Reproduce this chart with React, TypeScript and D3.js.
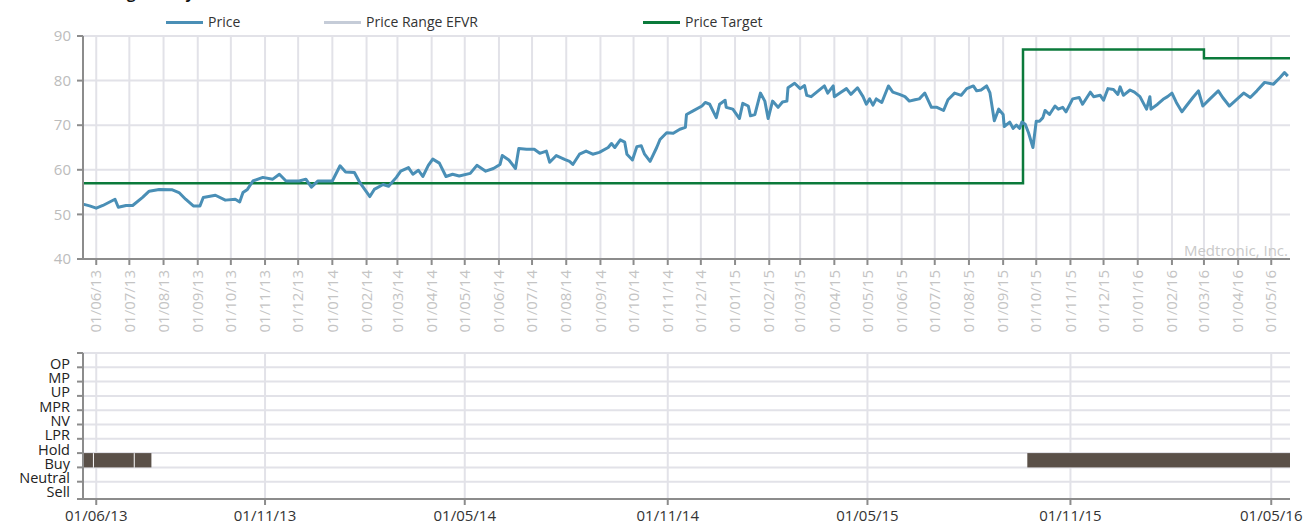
import React from "react";
import * as d3 from "d3";

const W = 1310;
const H = 524;
const FONT = "'Open Sans', 'Noto Sans', sans-serif";

// price (yyyy-mm-dd)
const priceDates = [
  "2013-05-20", "2013-05-26", "2013-06-01", "2013-06-07", "2013-06-18", "2013-06-21", "2013-06-28", "2013-07-04",
  "2013-07-13", "2013-07-19", "2013-07-28", "2013-08-09", "2013-08-15", "2013-08-21", "2013-08-28", "2013-09-03",
  "2013-09-06", "2013-09-17", "2013-09-26", "2013-10-05", "2013-10-09", "2013-10-12", "2013-10-16", "2013-10-21",
  "2013-10-30", "2013-11-08", "2013-11-14", "2013-11-20", "2013-12-02", "2013-12-08", "2013-12-13", "2013-12-19",
  "2014-01-01", "2014-01-08", "2014-01-13", "2014-01-21", "2014-01-26", "2014-02-04", "2014-02-08", "2014-02-16",
  "2014-02-21", "2014-02-28", "2014-03-04", "2014-03-11", "2014-03-15", "2014-03-20", "2014-03-24", "2014-03-29",
  "2014-04-02", "2014-04-08", "2014-04-14", "2014-04-20", "2014-04-26", "2014-05-06", "2014-05-12", "2014-05-20",
  "2014-05-27", "2014-06-02", "2014-06-04", "2014-06-10", "2014-06-16", "2014-06-19", "2014-06-26", "2014-07-03",
  "2014-07-08", "2014-07-14", "2014-07-17", "2014-07-23", "2014-07-31", "2014-08-04", "2014-08-07", "2014-08-13",
  "2014-08-19", "2014-08-25", "2014-08-31", "2014-09-08", "2014-09-11", "2014-09-14", "2014-09-19", "2014-09-23",
  "2014-09-25", "2014-09-30", "2014-10-04", "2014-10-08", "2014-10-11", "2014-10-16", "2014-10-22", "2014-10-25",
  "2014-10-31", "2014-11-06", "2014-11-12", "2014-11-17", "2014-11-18", "2014-11-24", "2014-12-02", "2014-12-05",
  "2014-12-09", "2014-12-15", "2014-12-18", "2014-12-23", "2014-12-24", "2014-12-30", "2015-01-05", "2015-01-08",
  "2015-01-13", "2015-01-15", "2015-01-19", "2015-01-24", "2015-01-28", "2015-01-31", "2015-02-04", "2015-02-09",
  "2015-02-13", "2015-02-17", "2015-02-18", "2015-02-24", "2015-03-01", "2015-03-05", "2015-03-07", "2015-03-11",
  "2015-03-16", "2015-03-23", "2015-03-26", "2015-03-31", "2015-04-01", "2015-04-07", "2015-04-12", "2015-04-16",
  "2015-04-22", "2015-04-27", "2015-04-30", "2015-05-03", "2015-05-06", "2015-05-09", "2015-05-14", "2015-05-20",
  "2015-05-24", "2015-05-30", "2015-06-04", "2015-06-08", "2015-06-13", "2015-06-17", "2015-06-22", "2015-06-28",
  "2015-07-03", "2015-07-09", "2015-07-13", "2015-07-19", "2015-07-25", "2015-07-30", "2015-08-05", "2015-08-08",
  "2015-08-12", "2015-08-17", "2015-08-20", "2015-08-24", "2015-08-28", "2015-09-01", "2015-09-02", "2015-09-07",
  "2015-09-10", "2015-09-13", "2015-09-16", "2015-09-18", "2015-09-21", "2015-09-24", "2015-09-28", "2015-10-01",
  "2015-10-04", "2015-10-07", "2015-10-09", "2015-10-13", "2015-10-18", "2015-10-21", "2015-10-25", "2015-10-28",
  "2015-11-03", "2015-11-09", "2015-11-12", "2015-11-19", "2015-11-22", "2015-11-28", "2015-12-01", "2015-12-05",
  "2015-12-10", "2015-12-14", "2015-12-16", "2015-12-19", "2015-12-25", "2015-12-29", "2016-01-03", "2016-01-09",
  "2016-01-12", "2016-01-13", "2016-01-19", "2016-01-24", "2016-01-28", "2016-02-01", "2016-02-05", "2016-02-10",
  "2016-02-14", "2016-02-20", "2016-02-25", "2016-02-29", "2016-03-06", "2016-03-14", "2016-03-18", "2016-03-24",
  "2016-03-29", "2016-04-06", "2016-04-12", "2016-04-18", "2016-04-25", "2016-05-03", "2016-05-09", "2016-05-13",
  "2016-05-16",
];
const priceValues = [
  52.3, 51.9, 51.4, 52.0, 53.4, 51.6, 52.0, 52.0,
  53.8, 55.2, 55.6, 55.5, 54.9, 53.4, 51.9, 51.9,
  53.8, 54.3, 53.2, 53.4, 52.8, 54.9, 55.6, 57.5,
  58.3, 57.9, 59.0, 57.5, 57.5, 57.9, 56.1, 57.5,
  57.5, 60.9, 59.5, 59.4, 57.1, 54.0, 55.6, 56.7,
  56.3, 58.3, 59.7, 60.5, 59.0, 59.9, 58.5, 61.0,
  62.4, 61.5, 58.5, 59.0, 58.6, 59.2, 61.0, 59.7,
  60.3, 61.2, 63.2, 62.2, 60.3, 64.8, 64.6, 64.6,
  63.7, 64.2, 61.7, 63.2, 62.3, 61.9, 61.2, 63.5,
  64.2, 63.5, 63.9, 65.0, 65.9, 65.0, 66.7, 66.2,
  63.5, 62.2, 65.2, 65.4, 63.5, 61.9, 65.0, 66.8,
  68.3, 68.2, 69.1, 69.5, 72.4, 73.2, 74.3, 75.1,
  74.7, 71.7, 74.7, 75.6, 74.0, 73.6, 71.5, 74.9,
  74.3, 72.1, 72.4, 77.2, 75.4, 71.5, 75.4, 74.0,
  75.2, 75.4, 78.4, 79.4, 78.2, 78.9, 76.7, 76.4,
  77.4, 78.8, 77.2, 78.8, 76.4, 77.4, 78.2, 76.9,
  78.4, 76.4, 74.7, 75.9, 74.5, 75.9, 75.1, 78.8,
  77.4, 76.9, 76.4, 75.4, 75.7, 75.9, 77.2, 74.0,
  74.0, 73.3, 75.7, 77.2, 76.7, 78.2, 78.8, 77.7,
  77.9, 78.8, 77.3, 71.0, 73.6, 72.4, 69.7, 70.7,
  69.3, 70.0, 69.3, 70.7, 70.2, 68.3, 65.0, 70.9,
  70.9, 71.7, 73.3, 72.4, 74.3, 73.6, 74.0, 73.0,
  75.9, 76.2, 74.7, 77.4, 76.4, 76.7, 75.6, 78.2,
  78.0, 76.9, 78.6, 76.7, 77.9, 77.4, 76.4, 73.6,
  76.4, 73.6, 74.7, 75.8, 76.4, 77.2, 75.1, 73.0,
  74.3, 76.2, 77.7, 74.3, 75.8, 77.7, 76.2, 74.3,
  75.4, 77.2, 76.2, 77.7, 79.6, 79.2, 80.7, 81.8,
  81.0,
];

// price target steps
const targetDates = ["2013-05-20", "2015-09-19", "2016-03-01", "2016-05-18"];
const targetValues = [57, 87, 85, 85];

// analyst rating periods
const ratingCategories = ["OP", "MP", "UP", "MPR", "NV", "LPR", "Hold", "Buy", "Neutral", "Sell"];
const ratingStarts = ["2013-05-20", "2013-05-29", "2013-07-05", "2015-09-22"];
const ratingEnds = ["2013-05-29", "2013-07-05", "2013-07-21", "2016-05-18"];
const ratingLevels = ["Buy", "Buy", "Buy", "Buy"];

const yTicks = [40, 50, 60, 70, 80, 90];
const bottomTickDates = ["2013-06-01", "2013-11-01", "2014-05-01", "2014-11-01", "2015-05-01", "2015-11-01", "2016-05-01"];
const legendNames = ["Price", "Price Range EFVR", "Price Target"];
const legendColors = ["#4a8fb6", "#c5ccd8", "#0b7a3b"];

const parse = d3.timeParse("%Y-%m-%d");
const fmt = d3.timeFormat("%d/%m/%y");

const App = () => {
  const left = 83;
  const right = 1290;
  const top1 = 36;
  const bot1 = 259;
  const top2 = 353;
  const bot2 = 499;

  const x = d3.scaleTime()
    .domain([parse("2013-05-20")!, parse("2016-05-18")!])
    .range([left, right]);
  const y = d3.scaleLinear().domain([40, 90]).range([bot1, top1]);
  const yr = d3.scaleBand().domain(ratingCategories).range([top2, bot2 - 3]);

  const monthTicks = d3.timeMonth.range(parse("2013-06-01")!, parse("2016-05-02")!);

  const price = priceDates.map((d, i) => ({ date: parse(d)!, value: priceValues[i] }));
  const target = targetDates.map((d, i) => ({ date: parse(d)!, value: targetValues[i] }));

  const line = d3.line<{ date: Date; value: number }>()
    .x((d) => x(d.date))
    .y((d) => y(d.value));
  const stepLine = d3.line<{ date: Date; value: number }>()
    .x((d) => x(d.date))
    .y((d) => y(d.value))
    .curve(d3.curveStepAfter);

  const grid = "#e2e2e8";
  const axis = "#8c8c8c";

  const legendX = [166, 324, 643];

  return (
    <>
      <style>{"body{margin:0}"}</style>
      <svg width={W} height={H} style={{ display: "block", fontFamily: FONT }}>
        <rect width={W} height={H} fill="#fff" />
        {/* title sits mostly above the top edge, as in the original */}
        <text x={194} y={-1} textAnchor="end" fontSize={15} fontWeight="bold" fill="#111">
          Rating History
        </text>

        {/* legend */}
        {legendNames.map((n, i) => (
          <g key={n}>
            <line x1={legendX[i]} x2={legendX[i] + 37} y1={22.5} y2={22.5} stroke={legendColors[i]} strokeWidth={3} />
            <text x={legendX[i] + 42} y={22.5} dy="0.35em" fontSize={14} fill="#333">{n}</text>
          </g>
        ))}

        {/* top chart grid */}
        {monthTicks.map((t) => (
          <line key={"v" + +t} x1={x(t)} x2={x(t)} y1={top1} y2={bot1} stroke={grid} strokeWidth={2} />
        ))}
        {yTicks.map((v) => (
          <line key={"h" + v} x1={left} x2={right} y1={y(v)} y2={y(v)} stroke={grid} strokeWidth={2} />
        ))}

        <text x={right - 2} y={256} textAnchor="end" fontSize={15} fill="#c9c9c9">Medtronic, Inc.</text>

        <path d={stepLine(target) ?? ""} fill="none" stroke="#0b7a3b" strokeWidth={2.5} />
        <path d={line(price) ?? ""} fill="none" stroke="#4a8fb6" strokeWidth={3} strokeLinejoin="round" />

        {/* top chart axes */}
        <line x1={left} x2={left} y1={top1} y2={bot1} stroke={axis} strokeWidth={2} />
        <line x1={left} x2={right} y1={bot1} y2={bot1} stroke={axis} strokeWidth={2} />
        {yTicks.map((v) => (
          <g key={"yt" + v}>
            <line x1={left - 6} x2={left} y1={y(v)} y2={y(v)} stroke={axis} strokeWidth={2} />
            <text x={71} y={y(v)} dy="0.35em" textAnchor="end" fontSize={15} fill="#bcbcbc">{v}</text>
          </g>
        ))}
        {monthTicks.map((t) => (
          <g key={"xt" + +t}>
            <line x1={x(t)} x2={x(t)} y1={bot1} y2={bot1 + 6} stroke={axis} strokeWidth={2} />
            <text
              transform={`translate(${x(t)},${bot1 + 11}) rotate(-90)`}
              dy="0.35em"
              textAnchor="end"
              fontSize={15}
              fill="#c4c4c4"
            >
              {fmt(t)}
            </text>
          </g>
        ))}

        {/* bottom chart grid */}
        {bottomTickDates.map((d) => (
          <line key={"bv" + d} x1={x(parse(d)!)} x2={x(parse(d)!)} y1={top2} y2={bot2} stroke={grid} strokeWidth={2} />
        ))}
        {ratingCategories.map((c) => (
          <line key={"bh" + c} x1={left} x2={right} y1={yr(c)!} y2={yr(c)!} stroke={grid} strokeWidth={2} />
        ))}

        {/* rating bars */}
        {ratingStarts.map((s, i) => {
          const x0 = x(parse(s)!);
          const x1 = x(parse(ratingEnds[i])!);
          return (
            <rect
              key={"r" + s}
              x={x0 + (i === 0 ? 0 : 1)}
              y={yr(ratingLevels[i])!}
              width={x1 - x0 - (i === 0 ? 0 : 1)}
              height={yr.bandwidth()}
              fill="#5a5048"
            />
          );
        })}

        {/* bottom chart axes */}
        <line x1={left} x2={left} y1={top2} y2={bot2} stroke={axis} strokeWidth={2} />
        <line x1={left} x2={right} y1={bot2} y2={bot2} stroke={axis} strokeWidth={2} />
        {ratingCategories.map((c) => (
          <g key={"rc" + c}>
            <line x1={left - 6} x2={left} y1={yr(c)!} y2={yr(c)!} stroke={axis} strokeWidth={2} />
            <text
              x={70}
              y={yr(c)! + yr.bandwidth() / 2 + 3.5}
              dy="0.35em"
              textAnchor="end"
              fontSize={14.5}
              fill="#222"
            >
              {c}
            </text>
          </g>
        ))}
        <line x1={left - 6} x2={left} y1={bot2} y2={bot2} stroke={axis} strokeWidth={2} />
        {bottomTickDates.map((d) => (
          <g key={"bt" + d}>
            <line x1={x(parse(d)!)} x2={x(parse(d)!)} y1={bot2} y2={bot2 + 6} stroke={axis} strokeWidth={2} />
            <text x={x(parse(d)!)} y={521} textAnchor="middle" fontSize={15} fill="#333">
              {fmt(parse(d)!)}
            </text>
          </g>
        ))}
      </svg>
    </>
  );
};

export default App;
